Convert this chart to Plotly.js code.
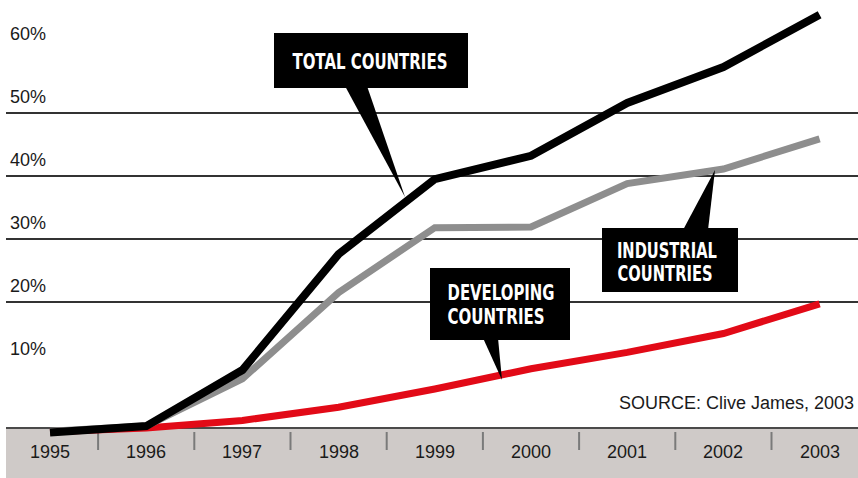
<!DOCTYPE html>
<html>
<head>
<meta charset="utf-8">
<script src="https://cdn.plot.ly/plotly-3.0.1.min.js"></script>
<style>html,body{margin:0;padding:0;background:#fff}#chart{width:858px;height:478px}</style>
</head>
<body>
<div id="chart"></div>
<script>
// ---- data ----
const years = [1995, 1996, 1997, 1998, 1999, 2000, 2001, 2002, 2003];
const yearLabels = ["1995", "1996", "1997", "1998", "1999", "2000", "2001", "2002", "2003"];
const totalCountries = [-0.7, 0.3, 9.2, 27.6, 39.5, 43.2, 51.6, 57.3, 65.6];
const industrialCountries = [-0.5, 0.3, 7.8, 21.5, 31.8, 31.9, 38.8, 41.1, 45.9];
const developingCountries = [-0.6, 0.0, 1.2, 3.3, 6.2, 9.4, 12.0, 15.0, 19.7];
const yTickValues = [10, 20, 30, 40, 50, 60];
const yTickLabels = ["10%", "20%", "30%", "40%", "50%", "60%"];
const gridValues = [20, 30, 40, 50];
const sourceText = "SOURCE: Clive James, 2003";

// ---- pixel helpers for decorations ----
const W = 858, H = 478;
const PX_PER_YEAR = 96.2, X1995 = 50;
const ZERO_PY = 428, PX_PER_PCT = 6.3;
const dx = px => 1995 + (px - X1995) / PX_PER_YEAR;
const dy = py => (ZERO_PY - py) / PX_PER_PCT;

const FONT = "Liberation Sans, Arial, Helvetica, sans-serif";
const CFONT = "DejaVu Sans, sans-serif";

const traces = [
  {x: years, y: developingCountries, mode: "lines", line: {color: "#e20a17", width: 7}, hoverinfo: "skip"},
  {x: years, y: industrialCountries, mode: "lines", line: {color: "#8e8e8e", width: 7}, hoverinfo: "skip"},
  {x: years, y: totalCountries, mode: "lines", line: {color: "#000000", width: 8}, hoverinfo: "skip"}
];

const shapes = [];
shapes.push({type: "rect", xref: "x", yref: "y", x0: dx(6), x1: dx(W), y0: dy(H), y1: 0,
  fillcolor: "#cfcac8", line: {width: 0}, layer: "below"});
shapes.push({type: "line", xref: "x", yref: "y", x0: dx(6), x1: dx(W), y0: 0, y1: 0,
  line: {color: "#4a4a4a", width: 2}, layer: "below"});
gridValues.forEach(v => shapes.push({type: "line", xref: "x", yref: "y", x0: dx(6), x1: dx(W), y0: v, y1: v,
  line: {color: "#333333", width: 2}, layer: "below"}));
years.slice(0, -1).forEach(yr => shapes.push({type: "line", xref: "x", yref: "y", x0: yr + 0.5, x1: yr + 0.5,
  y0: dy(432), y1: dy(450), line: {color: "#7a7a7a", width: 2}, layer: "below"}));

function box(x0, y0, x1, y1) {
  shapes.push({type: "rect", xref: "x", yref: "y", x0: dx(x0), x1: dx(x1), y0: dy(y1), y1: dy(y0),
    fillcolor: "#000", line: {width: 0}, layer: "above"});
}
function pointer(ax, bx, by, tx, ty) {
  shapes.push({type: "path", xref: "x", yref: "y",
    path: `M ${dx(ax)},${dy(by)} L ${dx(bx)},${dy(by)} L ${dx(tx)},${dy(ty)} Z`,
    fillcolor: "#000", line: {width: 0}, layer: "above"});
}
box(274, 33, 468, 88); pointer(345, 367, 86, 405, 197);
box(430, 268, 570, 340); pointer(483, 498, 338, 502, 380);
box(602, 228, 738, 292); pointer(683, 708, 230, 715, 170);

const annotations = [];
yTickValues.forEach((v, i) => annotations.push({x: dx(8), y: v, xref: "x", yref: "y", xanchor: "left", yanchor: "middle",
  yshift: 16, text: yTickLabels[i], showarrow: false, font: {family: FONT, size: 18, color: "#1a1a1a"}}));
years.forEach((yr, i) => annotations.push({x: yr, y: dy(452), xref: "x", yref: "y", xanchor: "center", yanchor: "middle",
  text: yearLabels[i], showarrow: false, font: {family: FONT, size: 18, color: "#1a1a1a"}}));
annotations.push({x: dx(856), y: dy(403), xref: "x", yref: "y", xanchor: "right", yanchor: "middle",
  text: sourceText, showarrow: false, font: {family: FONT, size: 18, color: "#1a1a1a"}});

const squeeze = []; // [annotation index, target width]
function ctext(txt, cx, cy, width) {
  squeeze.push([annotations.length, width]);
  annotations.push({x: dx(cx), y: dy(cy), xref: "x", yref: "y", xanchor: "center", yanchor: "middle",
    text: "<b>" + txt + "</b>", showarrow: false, font: {family: CFONT, size: 22, color: "#fff"}});
}
ctext("TOTAL COUNTRIES", 369.5, 61, 155);
ctext("DEVELOPING", 500.5, 292, 107);
ctext("COUNTRIES", 495.5, 316, 97);
ctext("INDUSTRIAL", 667, 250, 100);
ctext("COUNTRIES", 664.5, 273, 95);

const layout = {
  width: W, height: H,
  margin: {l: 0, r: 0, t: 0, b: 0, pad: 0},
  paper_bgcolor: "#fff", plot_bgcolor: "#fff",
  showlegend: false,
  xaxis: {range: [dx(0), dx(W)], visible: false, fixedrange: true},
  yaxis: {range: [dy(H), dy(0)], visible: false, fixedrange: true},
  shapes: shapes,
  annotations: annotations
};

Plotly.newPlot("chart", traces, layout, {displayModeBar: false, staticPlot: true}).then(gd => {
  squeeze.forEach(([idx, w]) => {
    const t = gd.querySelector('.annotation[data-index="' + idx + '"] text.annotation-text');
    if (t) {
      t.setAttribute("textLength", w);
      t.setAttribute("lengthAdjust", "spacingAndGlyphs");
    }
  });
});
</script>
</body>
</html>
